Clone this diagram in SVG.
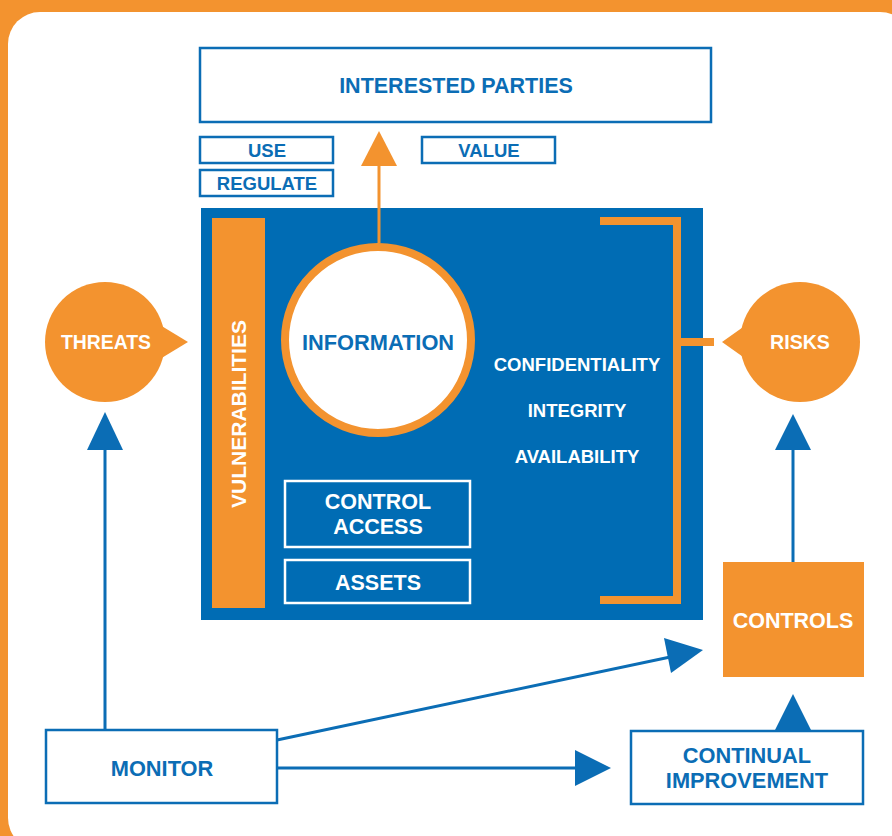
<svg xmlns="http://www.w3.org/2000/svg" width="892" height="836" viewBox="0 0 892 836">
<style>
.box{fill:#fff;stroke:#0b6db5;stroke-width:2.5}
.wbox{fill:none;stroke:#fff;stroke-width:2.5}
.bt{font-family:"Liberation Sans",Arial,sans-serif;font-weight:bold;fill:#0b6db5;text-anchor:middle}
.wt{font-family:"Liberation Sans",Arial,sans-serif;font-weight:bold;fill:#fff;text-anchor:middle}
.or{fill:#f3932f}
.bl{stroke:#0b6db5;stroke-width:3;fill:none}
.blf{fill:#0b6db5}
</style>
<rect x="0" y="0" width="892" height="836" fill="#f3932f"/>
<rect x="8" y="12" width="904" height="838" rx="32" fill="#fff"/>

<g id="interested-parties"><rect class="box" x="200" y="48" width="511" height="74"/><text class="bt" x="456" y="93" font-size="21.5">INTERESTED PARTIES</text></g>
<g id="use"><rect class="box" x="200" y="137" width="133" height="26"/><text class="bt" x="267" y="157" font-size="18.5">USE</text></g>
<g id="regulate"><rect class="box" x="200" y="170" width="133" height="26"/><text class="bt" x="267" y="190" font-size="18.5">REGULATE</text></g>
<g id="value"><rect class="box" x="422" y="137" width="133" height="26"/><text class="bt" x="489" y="157" font-size="18.5">VALUE</text></g>

<g id="asset-area"><rect x="201" y="208" width="502" height="412" fill="#006cb4"/></g>
<g id="vulnerabilities"><rect class="or" x="212" y="218" width="53" height="390"/><text class="wt" font-size="21" transform="translate(246,414) rotate(-90)">VULNERABILITIES</text></g>
<g id="information"><circle cx="378" cy="340" r="93" fill="#fff" stroke="#f3932f" stroke-width="8"/><text class="bt" x="378" y="350" font-size="21.8">INFORMATION</text></g>
<g id="properties">
<text class="wt" x="577" y="371" font-size="18.5">CONFIDENTIALITY</text>
<text class="wt" x="577" y="417" font-size="18.5">INTEGRITY</text>
<text class="wt" x="577" y="463" font-size="18.5">AVAILABILITY</text>
</g>
<g id="control-access"><rect class="wbox" x="285" y="481" width="185" height="66"/><text class="wt" x="378" y="509" font-size="21.5">CONTROL</text><text class="wt" x="378" y="534" font-size="21.5">ACCESS</text></g>
<g id="assets"><rect class="wbox" x="285" y="560" width="185" height="43"/><text class="wt" x="378" y="590" font-size="21.5">ASSETS</text></g>

<g id="threats"><circle class="or" cx="105" cy="342" r="60"/><polygon class="or" points="160,325 188,342 160,359"/><text class="wt" x="106" y="349" font-size="19.4">THREATS</text></g>
<g id="risks"><circle class="or" cx="800" cy="342" r="60"/><polygon class="or" points="746,325 722,342 746,359"/><text class="wt" x="800" y="349" font-size="19.6">RISKS</text></g>
<g id="controls"><rect class="or" x="723" y="562" width="141" height="115"/><text class="wt" x="793" y="628" font-size="21.5">CONTROLS</text></g>
<g id="monitor"><rect class="box" x="46" y="730" width="231" height="73"/><text class="bt" x="162" y="776" font-size="21.8">MONITOR</text></g>
<g id="continual-improvement"><rect class="box" x="631" y="731" width="232" height="73"/><text class="bt" x="747" y="763" font-size="21.8">CONTINUAL</text><text class="bt" x="747" y="788" font-size="21.8">IMPROVEMENT</text></g>

<g id="connectors">
<line x1="379" y1="243" x2="379" y2="160" stroke="#f3932f" stroke-width="3"/>
<polygon class="or" points="361,166 379,131 397,166"/>
<polyline points="600,221 677,221 677,600 600,600" fill="none" stroke="#f3932f" stroke-width="8"/>
<line x1="677" y1="342" x2="714" y2="342" stroke="#f3932f" stroke-width="8"/>
<line class="bl" x1="793" y1="562" x2="793" y2="445"/>
<polygon class="blf" points="775,450 793,414 811,450"/>
<line class="bl" x1="105" y1="730" x2="105" y2="445"/>
<polygon class="blf" points="87,450 105,412 123,450"/>
<polygon class="blf" points="775,730 793,694 811,730"/>
<line class="bl" x1="277" y1="768" x2="580" y2="768"/>
<polygon class="blf" points="575,750 611,768 575,786"/>
<line class="bl" x1="277" y1="740" x2="675" y2="656"/>
<polygon class="blf" points="664,638 703,650 671,673"/>
</g>
</svg>
